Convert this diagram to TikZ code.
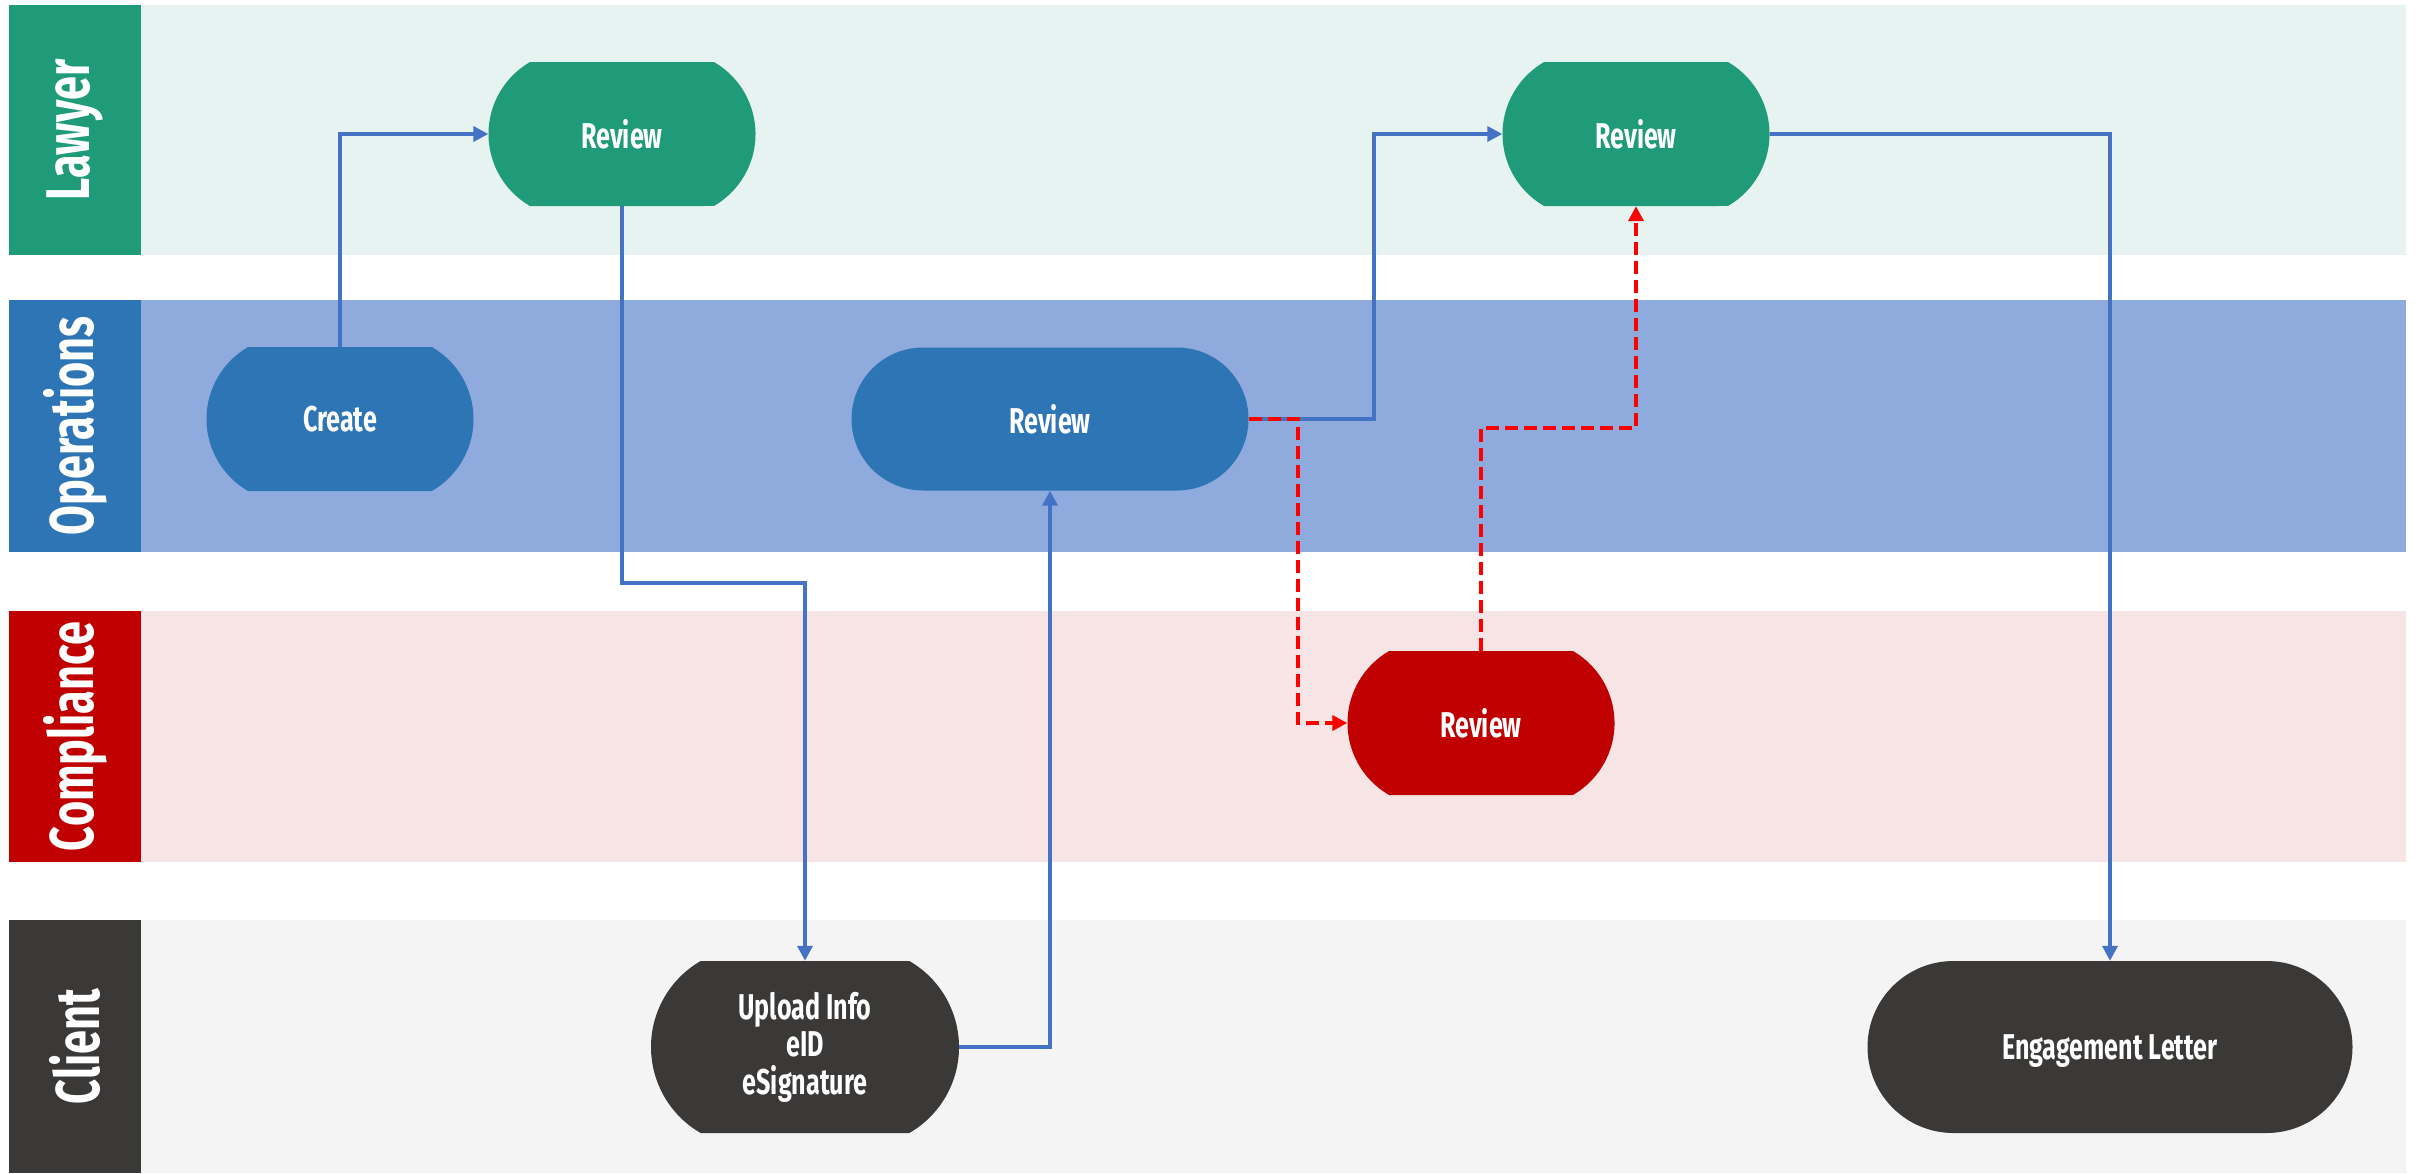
\documentclass[tikz,border=0pt]{standalone}
\usepackage{fontspec}
\usepackage{tikz}
\usetikzlibrary{arrows.meta,shapes.misc,positioning,calc}
\newfontfamily\condfont{Fira Sans}[FakeStretch=0.7]
\definecolor{lawgreen}{RGB}{31,155,122}
\definecolor{lawbg}{RGB}{230,243,240}
\definecolor{opsblue}{RGB}{46,117,182}
\definecolor{opsbg}{RGB}{143,170,220}
\definecolor{compred}{RGB}{192,0,0}
\definecolor{compbg}{RGB}{247,228,228}
\definecolor{clientgray}{RGB}{59,57,55}
\definecolor{clientbg}{RGB}{244,244,244}
\definecolor{flowblue}{RGB}{68,114,196}
\definecolor{checkred}{RGB}{255,0,0}
\tikzset{
  task/.style={rounded rectangle, rounded rectangle arc length=120, fill=#1,
    minimum width=267bp, minimum height=144bp, inner sep=0pt, text=white,
    align=center, font=\condfont\bfseries\fontsize{36}{37.5}\selectfont},
  wide task/.style={task=#1, rounded rectangle arc length=180},
  lanetitle/.style={rotate=90, text=white, inner sep=0pt,
    font=\condfont\bfseries\fontsize{62}{64}\selectfont},
  flow/.style={draw=flowblue, line width=3.5bp, -{Triangle[length=15bp,width=15bp]}},
  check/.style={draw=checkred, line width=4bp, dash pattern=on 13bp off 6bp,
    -{Triangle[length=15bp,width=15bp]}}
}
\begin{document}
\begin{tikzpicture}[x=1bp,y=-1bp]
   \useasboundingbox (0,0) rectangle (2420,1173);
   \fill[white] (0,0) rectangle (2420,1173);
   % swim lanes
   \foreach \ytop/\ybot/\hdcol/\bgcol/\lname in {5/255/lawgreen/lawbg/Lawyer,
       300/552/opsblue/opsbg/Operations, 611/862/compred/compbg/Compliance,
       920/1173/clientgray/clientbg/Client}
   {
     \fill[\bgcol] (141,\ytop) rectangle (2406,\ybot);
     \fill[\hdcol] (9,\ytop) rectangle (141,\ybot);
     \node[lanetitle] (lane-\lname) at (75,{(\ytop+\ybot)/2}) {\lname};
   }
   % tasks
   \node[task=lawgreen] (lawrev1) at (622,134) {Review};
   \node[task=lawgreen] (lawrev2) at (1636,134) {Review};
   \node[task=opsblue] (create) at (340,419) {Create};
   \node[wide task=opsblue, minimum width=397bp, minimum height=143bp] (opsrev) at (1050,419) {Review};
   \node[task=compred] (comprev) at (1481,723) {Review};
   \node[task=clientgray, minimum width=308bp, minimum height=172bp] (upload) at (805,1047) {Upload Info\\eID\\eSignature};
   \node[wide task=clientgray, minimum width=485bp, minimum height=172bp, text depth=0pt] (letter) at (2110,1047) {Engagement Letter};
   % bends
   \coordinate (bendA) at (0,583);
   \coordinate (bendB) at (1374,0);
   \coordinate (bendC) at (1298,0);
   \coordinate (bendD) at (0,428);
   % connectors
   \path[flow] (create.north) |- (lawrev1.west);
   \path[flow] (lawrev1.south) -- (lawrev1.south |- bendA) -| (upload.north);
   \path[flow] (upload.east) -| (opsrev.south);
   \path[flow] (opsrev.east) -- (opsrev.east -| bendB) |- (lawrev2.west);
   \path[flow] (lawrev2.east) -| (letter.north);
   \path[check] (opsrev.east) -- (opsrev.east -| bendC) |- (comprev.west);
   \path[check] (comprev.north) -- (comprev.north |- bendD) -| (lawrev2.south);
\end{tikzpicture}
\end{document}
